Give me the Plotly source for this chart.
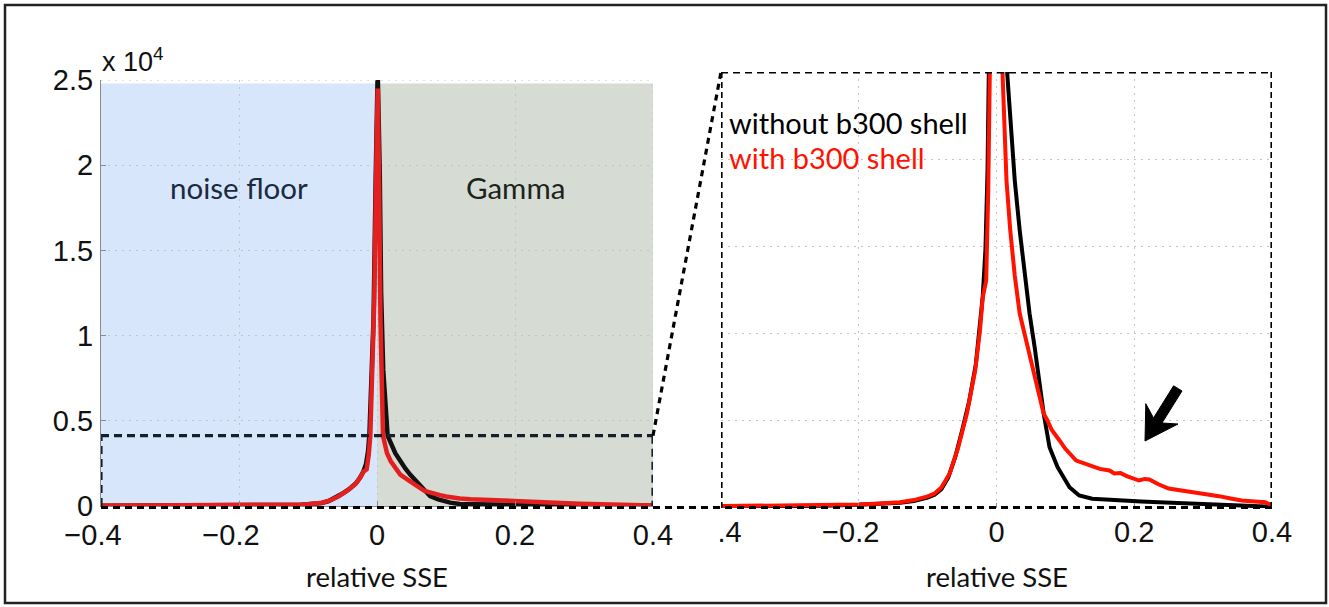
import plotly.graph_objects as go

W, H = 1329, 607

# ---------------- data ----------------
x_without = [-0.40, -0.35, -0.30, -0.25, -0.20, -0.17, -0.14, -0.12, -0.11, -0.10,
             -0.09, -0.08, -0.07, -0.06, -0.05, -0.04, -0.03, -0.025, -0.02, -0.016,
             -0.013, -0.011, -0.008, -0.005, -0.002, 0.001, 0.004, 0.006, 0.009, 0.012,
             0.0154, 0.0265, 0.0337, 0.041, 0.048, 0.0554, 0.0617, 0.0685, 0.077, 0.0887,
             0.106, 0.12, 0.139, 0.16, 0.175, 0.188, 0.21, 0.236, 0.26, 0.284,
             0.31, 0.333, 0.36, 0.39, 0.40]
y_without = [12, 14, 18, 22, 30, 38, 50, 66, 78, 98,
             126, 178, 290, 480, 730, 1000, 1360, 1640, 2000, 2450,
             3200, 4200, 7000, 11000, 19000, 25600, 19500, 12500, 8000, 5600,
             4125, 3100, 2625, 2200, 1840, 1521, 1206, 894, 575, 386,
             197, 118, 87, 78, 80, 71, 62, 55, 50, 45,
             36, 26, 20, 14, 12]

x_with = [-0.40, -0.35, -0.30, -0.25, -0.20, -0.17, -0.14, -0.12, -0.11, -0.10,
          -0.09, -0.08, -0.068, -0.056, -0.043, -0.031, -0.024, -0.020, -0.015, -0.012,
          -0.0097, -0.007, -0.004, -0.001, 0.001, 0.003, 0.005, 0.0087, 0.0145, 0.020,
          0.0265, 0.0337, 0.0453, 0.0568, 0.0684, 0.074, 0.080, 0.0915, 0.100, 0.1157,
          0.120, 0.135, 0.150, 0.164, 0.171, 0.180, 0.190, 0.207, 0.215, 0.222,
          0.235, 0.250, 0.265, 0.280, 0.294, 0.310, 0.323, 0.340, 0.356, 0.370,
          0.390, 0.400]
y_with = [18, 20, 24, 28, 33, 43, 55, 75, 90, 110,
          137, 194, 326, 563, 894, 1300, 1680, 1994, 2150, 3000,
          4125, 7500, 12000, 20000, 24500, 19000, 11000, 4125, 3098, 2625,
          2200, 1840, 1521, 1206, 894, 828, 740, 639, 560, 449,
          440, 400, 370, 355, 326, 330, 300, 260, 275, 270,
          225, 184, 170, 150, 137, 120, 112, 90, 71, 65,
          55, 24]

series_names = ["without b300 shell", "with b300 shell"]
series_colors_left = ["#111111", "#e3201f"]
series_colors_right = ["#000000", "#ff1200"]

x_tickvals = [-0.4, -0.2, 0, 0.2, 0.4]
x_ticktext = ["\u22120.4\u00a0\u00a0", "\u22120.2\u00a0\u00a0", "0", "0.2", "0.4"]
y_tickvals = [0, 5000, 10000, 15000, 20000, 25000]
y_ticktext = ["0", "0.5", "1", "1.5", "2", "2.5"]
y_exponent = "x 10<sup>4</sup>"
zoom_ymax = 4125
zoom_grid = [825, 1650, 2475, 3300]

region_labels = ["noise floor", "Gamma"]
region_x = [(-0.4, 0.0), (0.0, 0.4)]
region_top = 24800
region_fill = ["#d7e6fb", "#d6dcd3"]
region_text_color = ["#1b2a40", "#1c231d"]
x_title = "relative SSE"

# ---------------- geometry (pixels) ----------------
L_X0, L_X1, L_YB, L_YT = 101, 653, 506, 80
R_X0, R_X1, R_YB, R_YT = 721, 1272, 508, 72


def px(x):
    return x / W


def py(y):
    return 1 - y / H


def left_to_px(x, y):
    return (L_X0 + (x + 0.4) / 0.8 * (L_X1 - L_X0),
            L_YB - y / 25000 * (L_YB - L_YT))


def right_to_px(x, y):
    return (R_X0 + (x + 0.4) / 0.8 * (R_X1 - R_X0),
            R_YB - y / zoom_ymax * (R_YB - R_YT))


fig = go.Figure()

for xs, ys, name, cl, cr in zip([x_without, x_with], [y_without, y_with], series_names,
                                series_colors_left, series_colors_right):
    fig.add_trace(go.Scatter(x=xs, y=ys, mode="lines", name=name,
                             line=dict(color=cl, width=4.5), xaxis="x", yaxis="y",
                             showlegend=False))
    fig.add_trace(go.Scatter(x=xs, y=ys, mode="lines", name=name,
                             line=dict(color=cr, width=4), xaxis="x2", yaxis="y2",
                             showlegend=False))

tickfont = dict(family="Liberation Sans, Arial, Helvetica", size=29, color="#111111")
labfont = "Lato, Gill Sans, sans-serif"
GRID = "#c4c4c4"
GDASH = "2px,5px"

fig.update_layout(
    width=W, height=H, autosize=False,
    margin=dict(l=0, r=0, t=0, b=0, pad=0, autoexpand=False),
    showlegend=False,
    paper_bgcolor="white", plot_bgcolor="rgba(0,0,0,0)",
    xaxis=dict(domain=[px(L_X0), px(L_X1)], range=[-0.4, 0.4], tickvals=x_tickvals,
               ticktext=x_ticktext, tickfont=tickfont, showgrid=True, gridcolor=GRID,
               griddash=GDASH, zeroline=False, showline=True, linecolor="#8a8a8a",
               linewidth=1, ticks="inside", ticklen=5, tickcolor="#8a8a8a",
               ticklabelstandoff=3, fixedrange=True, automargin=False),
    yaxis=dict(domain=[py(L_YB), py(L_YT)], range=[0, 25000], tickvals=y_tickvals,
               ticktext=y_ticktext, tickfont=tickfont, showgrid=True, gridcolor=GRID,
               griddash=GDASH, zeroline=False, showline=True, linecolor="#8a8a8a",
               linewidth=1, ticks="inside", ticklen=5, tickcolor="#8a8a8a",
               ticklabelstandoff=1, fixedrange=True, automargin=False),
    xaxis2=dict(domain=[px(R_X0), px(R_X1)], range=[-0.4, 0.4], tickvals=x_tickvals,
                ticktext=x_ticktext, tickfont=tickfont, showgrid=True, gridcolor=GRID,
                griddash=GDASH, zeroline=False, showline=False, anchor="y2",
                ticks="inside", ticklen=5, tickcolor="#8a8a8a",
                ticklabelstandoff=4, fixedrange=True, automargin=False),
    yaxis2=dict(domain=[py(R_YB), py(R_YT)], range=[0, zoom_ymax], tickvals=zoom_grid,
                showticklabels=False, showgrid=True, gridcolor=GRID, griddash=GDASH,
                zeroline=False, showline=False, anchor="x2", fixedrange=True,
                automargin=False),
)

shapes = []
# shaded regions
for (x0, x1), fc in zip(region_x, region_fill):
    shapes.append(dict(type="rect", xref="x", yref="y", x0=x0, x1=x1, y0=0, y1=region_top,
                       fillcolor=fc, line=dict(width=0), layer="below"))
# dotted edges of left axes (top and right)
shapes.append(dict(type="line", xref="x", yref="y", x0=-0.4, x1=0.4, y0=25000, y1=25000,
                   line=dict(color=GRID, width=1, dash=GDASH), layer="above"))
shapes.append(dict(type="line", xref="x", yref="y", x0=0.4, x1=0.4, y0=0, y1=25000,
                   line=dict(color=GRID, width=1, dash=GDASH), layer="above"))

DASHC = "#16202c"
# zoom box in left panel (left, top, right edges)
for (x0, y0, x1, y1) in [(-0.4, 0, -0.4, zoom_ymax), (-0.4, zoom_ymax, 0.4, zoom_ymax),
                         (0.4, zoom_ymax, 0.4, 0)]:
    shapes.append(dict(type="line", xref="x", yref="y", x0=x0, y0=y0, x1=x1, y1=y1,
                       line=dict(color=DASHC, width=3.2, dash="8px,5px"), layer="above"))
# right panel frame (top, left, right)
for (x0, y0, x1, y1), d in zip([(-0.4, zoom_ymax, 0.4, zoom_ymax),
                                (-0.4, 0, -0.4, zoom_ymax),
                                (0.4, 0, 0.4, zoom_ymax)],
                               ["7px,5px", "6px,4px", "6px,4px"]):
    shapes.append(dict(type="line", xref="x2", yref="y2", x0=x0, y0=y0, x1=x1, y1=y1,
                       line=dict(color="#000000", width=3.2, dash=d), layer="above"))
# long bottom dashed line joining both boxes
lb = left_to_px(-0.4, 0)
rb = right_to_px(0.4, 0)
shapes.append(dict(type="line", xref="paper", yref="paper", x0=px(lb[0]), y0=py(507.5),
                   x1=px(rb[0]), y1=py(507.5),
                   line=dict(color="#000000", width=3.2, dash="7px,5px"), layer="above"))
# diagonal connector
a = left_to_px(0.4, zoom_ymax)
b = right_to_px(-0.4, zoom_ymax)
shapes.append(dict(type="line", xref="paper", yref="paper", x0=px(a[0]), y0=py(a[1]),
                   x1=px(b[0]), y1=py(b[1]),
                   line=dict(color="#000000", width=3.2, dash="6px,5px"), layer="above"))
# white cover hiding the start of the right panel's first tick label
shapes.append(dict(type="rect", xref="paper", yref="paper", x0=px(673), x1=px(R_X0 - 1.5),
                   y0=py(560), y1=py(511), fillcolor="white", line=dict(width=0),
                   layer="above"))
# arrow (polygon in pixels)
arrow_px = [(1145, 441), (1178, 424), (1162, 423), (1182, 391), (1173.6, 385.8),
            (1153.5, 418), (1145.8, 403.7)]
path = "M " + " L ".join(f"{px(x):.5f},{py(y):.5f}" for x, y in arrow_px) + " Z"
shapes.append(dict(type="path", xref="paper", yref="paper", path=path,
                   fillcolor="#000000", line=dict(color="#000000", width=1), layer="above"))
# outer border
shapes.append(dict(type="rect", xref="paper", yref="paper", x0=px(5), x1=px(1326),
                   y0=py(603), y1=py(5), line=dict(color="#222222", width=2.5),
                   fillcolor="rgba(0,0,0,0)", layer="above"))
fig.update_layout(shapes=shapes)

ann = []
for (x0, x1), lab, col in zip(region_x, region_labels, region_text_color):
    ann.append(dict(xref="x", yref="paper", x=(x0 + x1) / 2, y=py(187), text=lab,
                    showarrow=False, xanchor="center", yanchor="middle",
                    font=dict(family=labfont, size=29.5, color=col)))
ann.append(dict(xref="paper", yref="paper", x=px(727), y=py(123), text=series_names[0],
                showarrow=False, xanchor="left", yanchor="middle",
                font=dict(family=labfont, size=29, color="#000000")))
ann.append(dict(xref="paper", yref="paper", x=px(727), y=py(157), text=series_names[1],
                showarrow=False, xanchor="left", yanchor="middle",
                font=dict(family=labfont, size=29, color="#ff1200")))
for xr in ["x", "x2"]:
    ann.append(dict(xref=xr, yref="paper", x=0, y=py(576), text=x_title, showarrow=False,
                    xanchor="center", yanchor="middle",
                    font=dict(family=labfont, size=27.5, color="#111111")))
ann.append(dict(xref="paper", yref="paper", x=px(100), y=py(79), text=y_exponent,
                showarrow=False, xanchor="left", yanchor="bottom",
                font=dict(family="Liberation Sans, Arial", size=27, color="#111111")))
fig.update_layout(annotations=ann)

fig.write_html("out.html")
